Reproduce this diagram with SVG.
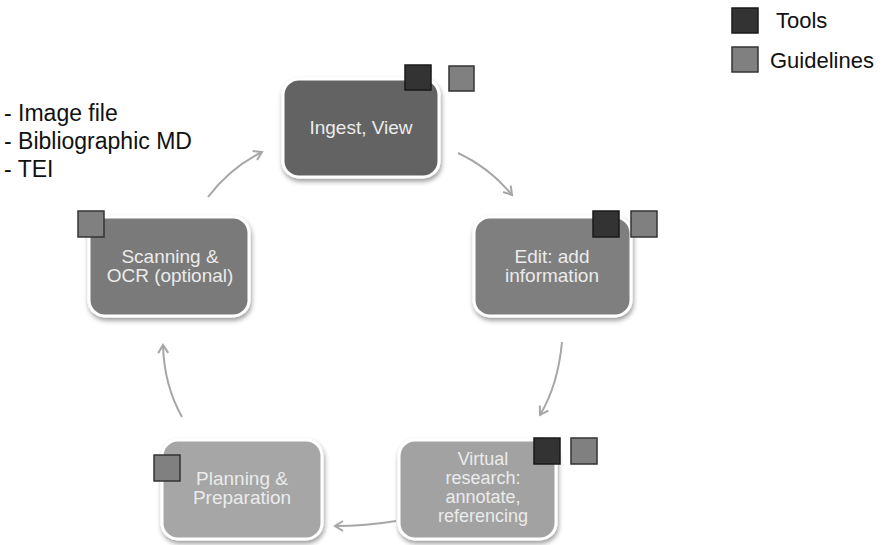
<svg xmlns="http://www.w3.org/2000/svg" width="884" height="545" viewBox="0 0 884 545">
<defs>
<filter id="sh" x="-10%" y="-10%" width="125%" height="130%">
<feGaussianBlur in="SourceAlpha" stdDeviation="2.5"/>
<feOffset dx="1" dy="3" result="b"/>
<feComponentTransfer><feFuncA type="linear" slope="0.4"/></feComponentTransfer>
<feMerge><feMergeNode/><feMergeNode in="SourceGraphic"/></feMerge>
</filter>
<marker id="ah" viewBox="0 0 12 12" refX="10" refY="6" markerWidth="12" markerHeight="12" markerUnits="userSpaceOnUse" orient="auto">
<path d="M2,1 L10,6 L2,11" fill="none" stroke="#a6a6a6" stroke-width="2"/>
</marker>
</defs>
<style>
.box{stroke:#fff;stroke-width:3;filter:url(#sh)}
.nt{font-family:"Liberation Sans",Arial,sans-serif;font-size:19px;fill:#ebebeb;text-anchor:middle}
.sm{font-size:18px}
.tool{fill:#333;stroke:#1a1a1a;stroke-width:1.5}
.guide{fill:#808080;stroke:#333;stroke-width:1.5}
.lt{font-family:"Liberation Sans",Arial,sans-serif;font-size:22px;fill:#111}
.in{font-size:23px}
.arr{fill:none;stroke:#a6a6a6;stroke-width:2;marker-end:url(#ah)}
</style>
<rect width="884" height="545" fill="#fff"/>
<g id="connectors">
<path class="arr" d="M208,197 Q230,168 262,152"/>
<path class="arr" d="M458,153 Q490,168 512,195"/>
<path class="arr" d="M562,342 Q558,385 540,415"/>
<path class="arr" d="M396,521 Q366,526 335,526"/>
<path class="arr" d="M182,417 Q164,385 163,345"/>
</g>
<g id="ingest">
<rect class="box" x="283" y="79" width="156" height="98" rx="16" fill="#646464"/>
<text class="nt" x="361" y="134">Ingest, View</text>
<rect class="tool" x="405" y="65" width="26" height="25"/>
<rect class="guide" x="449" y="66" width="25" height="25"/>
</g>
<g id="edit">
<rect class="box" x="474" y="217" width="157" height="99" rx="16" fill="#7f7f7f"/>
<text class="nt" x="552" y="263">Edit: add</text>
<text class="nt" x="552" y="282">information</text>
<rect class="tool" x="593" y="211" width="26" height="26"/>
<rect class="guide" x="631" y="211" width="26" height="26"/>
</g>
<g id="virtual">
<rect class="box" x="399" y="440" width="157" height="99" rx="16" fill="#a2a2a2"/>
<text class="nt sm" x="483" y="465">Virtual</text>
<text class="nt sm" x="483" y="484">research:</text>
<text class="nt sm" x="483" y="503">annotate,</text>
<text class="nt sm" x="483" y="522">referencing</text>
<rect class="tool" x="534" y="438" width="26" height="26"/>
<rect class="guide" x="571" y="438" width="26" height="26"/>
</g>
<g id="planning">
<rect class="box" x="162" y="440" width="160" height="99" rx="16" fill="#a6a6a6"/>
<text class="nt" x="242" y="485">Planning &amp;</text>
<text class="nt" x="242" y="504">Preparation</text>
<rect class="guide" x="154" y="455" width="26" height="26"/>
</g>
<g id="scanning">
<rect class="box" x="89" y="217" width="160" height="99" rx="16" fill="#7a7a7a"/>
<text class="nt" x="170" y="263">Scanning &amp;</text>
<text class="nt" x="170" y="282">OCR (optional)</text>
<rect class="guide" x="78" y="211" width="26" height="26"/>
</g>
<g id="legend">
<rect class="tool" x="732" y="8" width="26" height="25"/>
<text class="lt" x="776" y="28">Tools</text>
<rect class="guide" x="732" y="47" width="26" height="25"/>
<text class="lt" x="770" y="68">Guidelines</text>
</g>
<g id="inputs">
<text class="lt in" x="4" y="121">- Image file</text>
<text class="lt in" x="4" y="149">- Bibliographic MD</text>
<text class="lt in" x="4" y="177">- TEI</text>
</g>
</svg>
